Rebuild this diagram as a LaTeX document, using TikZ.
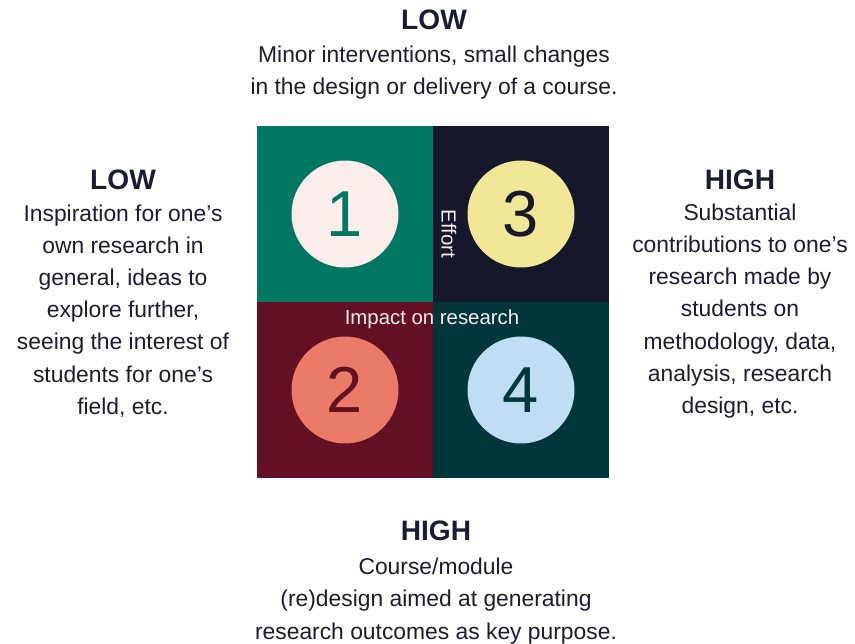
\documentclass[tikz,border=0pt]{standalone}
\usepackage{fontspec}
\setmainfont{Liberation Sans}
\usetikzlibrary{positioning}

\definecolor{ink}{HTML}{1B1C33}
\definecolor{teal}{HTML}{007763}
\definecolor{navy}{HTML}{16172B}
\definecolor{maroon}{HTML}{621022}
\definecolor{deepteal}{HTML}{01363A}
\definecolor{blush}{HTML}{FBEDEA}
\definecolor{butter}{HTML}{F2E796}
\definecolor{salmon}{HTML}{EB7B69}
\definecolor{sky}{HTML}{BFDDF5}
\definecolor{chalk}{HTML}{F5ECEC}

\tikzset{
  quad/.style={rectangle, inner sep=0pt, minimum size=3.52cm, fill=#1},
  num/.style={circle, inner sep=0pt, minimum size=2.14cm, font=\fontsize{37}{40}\selectfont},
  head/.style={text=ink, font=\bfseries\fontsize{16}{18}\selectfont},
  body/.style={text=ink, align=center, font=\fontsize{13}{18.3}\selectfont},
  axis/.style={text=chalk, font=\fontsize{11.6}{13}\selectfont, inner sep=0pt}
}

\begin{document}
\begin{tikzpicture}[x=0.02cm, y=-0.02cm]
				\useasboundingbox (0,0) rectangle (855,643);
				% quadrants
				\node[quad=teal] (q1) at (345,214) {};
				\node[quad=navy] (q3) at (521,214) {};
				\node[quad=maroon] (q2) at (345,390) {};
				\node[quad=deepteal] (q4) at (521,390) {};
				
				% numbered circles
				\node[num, fill=blush, text=teal] (c1) at (q1) {1};
				\node[num, fill=butter, text=navy] (c3) at (q3) {3};
				\node[num, fill=salmon, text=maroon] (c2) at (q2) {2};
				\node[num, fill=sky, text=deepteal] (c4) at (q4) {4};
				
				% axis labels
				\node[axis, rotate=-90] (effort) at (449,234) {Effort};
				\node[axis] (impact) at (432,319) {Impact on research};
				
				% effort: top and bottom
				\node[head] (lowE) at (434,20) {LOW};
				\node[body] (lowEtxt) at (434,73) {Minor interventions, small changes\\in the design or delivery of a course.};
				\node[head] (highE) at (436,531) {HIGH};
				\node[body] (highEtxt) at (436,601) {Course/module\\(re)design aimed at generating\\research outcomes as key purpose.};
				
				% impact: left and right
				\node[head] (lowI) at (123,180) {LOW};
				\node[body] (lowItxt) at (123,311) {Inspiration for one’s\\own research in\\general, ideas to\\explore further,\\seeing the interest of\\students for one’s\\field, etc.};
				\node[head] (highI) at (740,180) {HIGH};
				\node[body] (highItxt) at (740,311) {Substantial\\contributions to one’s\\research made by\\students on\\methodology, data,\\analysis, research\\design, etc.};
			\end{tikzpicture}
\end{document}
